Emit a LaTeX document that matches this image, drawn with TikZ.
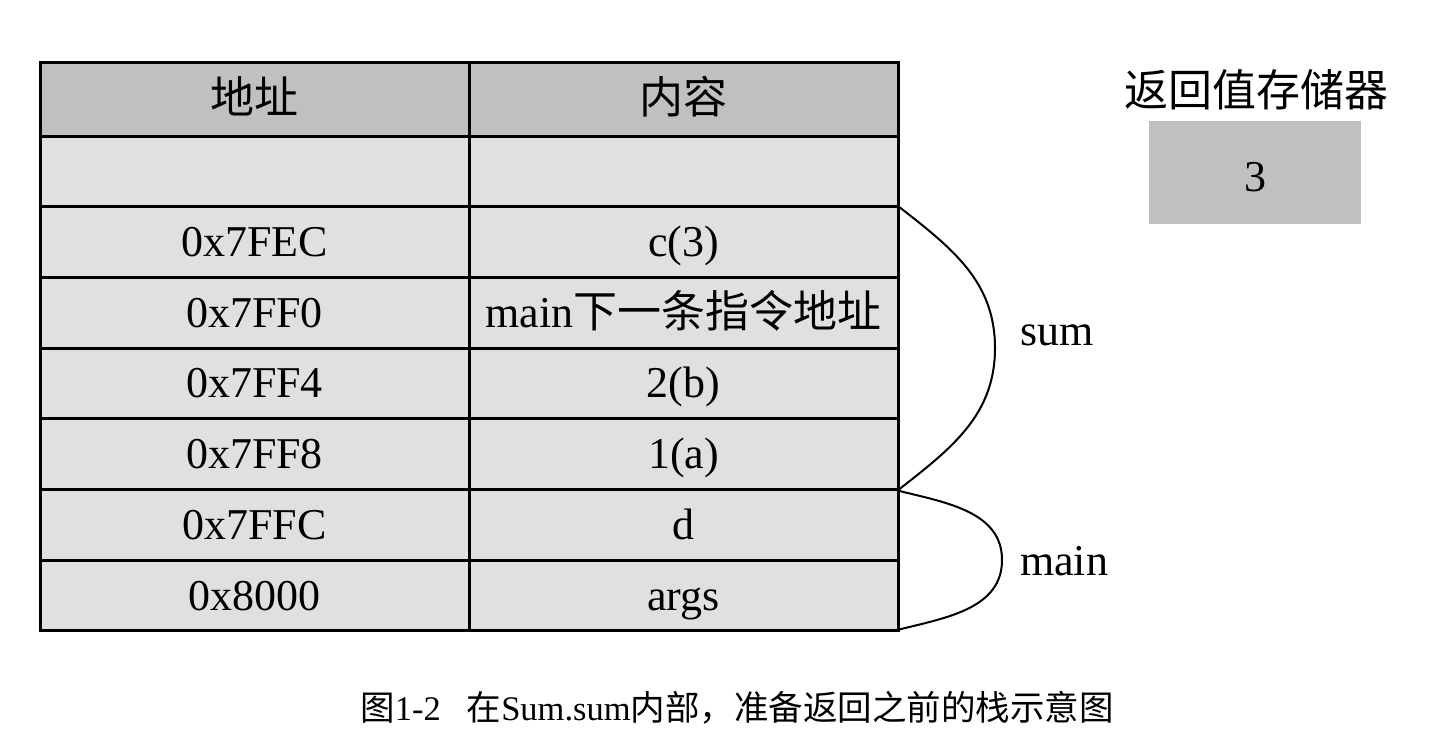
\documentclass[tikz,border=0pt]{standalone}
\usepackage{fontspec}
\setmainfont{Liberation Serif}
\newfontfamily\cjk{Noto Sans CJK SC}
\definecolor{headgray}{HTML}{C0C0C0}
\definecolor{rowgray}{HTML}{E0E0E0}
\begin{document}
\begin{tikzpicture}[x=1pt,y=-1pt,
  cell/.style={draw=black, line width=3pt, fill=rowgray, minimum width=429pt,
    minimum height=70.7pt, inner sep=0pt, text height=29pt, text depth=0pt,
    font=\fontsize{44}{50}\selectfont},
  headcell/.style={cell, fill=headgray, minimum height=74pt},
  bracecurve/.style={line width=2pt},
  lbl/.style={font=\fontsize{44}{50}\selectfont, inner sep=0pt}]
\useasboundingbox[fill=white] (0,0) rectangle (1443,745);

% header
\node[headcell] (h1) at (254.5,99) {\cjk 地址};
\node[headcell] (h2) at (683.5,99) {\cjk 内容};

% rows
\node[cell] (a0) at (254.5,171.35) {};
\node[cell] (b0) at (683.5,171.35) {};
\node[cell] (a1) at (254.5,242.05) {0x7FEC};
\node[cell] (b1) at (683.5,242.05) {c(3)};
\node[cell] (a2) at (254.5,312.75) {0x7FF0};
\node[cell] (b2) at (683.5,312.75) {main{\cjk 下一条指令地址}};
\node[cell] (a3) at (254.5,383.45) {0x7FF4};
\node[cell] (b3) at (683.5,383.45) {2(b)};
\node[cell] (a4) at (254.5,454.15) {0x7FF8};
\node[cell] (b4) at (683.5,454.15) {1(a)};
\node[cell] (a5) at (254.5,524.85) {0x7FFC};
\node[cell] (b5) at (683.5,524.85) {d};
\node[cell] (a6) at (254.5,595.55) {0x8000};
\node[cell] (b6) at (683.5,595.55) {args};

% braces
\coordinate (s1) at ([yshift=-2pt]b1.north east);
\coordinate (s2) at ([yshift=2pt]b4.south east);
\coordinate (sapex) at (995,348);
\draw[bracecurve] (s1) to[out=-38,in=90] (sapex) to[out=-90,in=38] (s2);
\coordinate (m1) at ([yshift=-3pt]b5.north east);
\coordinate (m2) at ([yshift=3pt]b6.south east);
\coordinate (mapex) at (1002,560);
\draw[bracecurve] (m1) to[out=-14,in=90] (mapex) to[out=-90,in=14] (m2);

\node[lbl, anchor=base] (sum) at (1057,345) {sum};
\node[lbl, anchor=base] (mainl) at (1064,575) {main};

% return register
\node[lbl, anchor=center] (regl) at (1256,90) {\cjk 返回值存储器};
\node[fill=headgray, minimum width=212pt, minimum height=103pt, inner sep=0pt,
  text height=37pt, text depth=0pt, font=\fontsize{44}{50}\selectfont] (reg) at (1255,172.5) {3};

% caption
\node[font=\fontsize{34.5}{40}\selectfont, inner sep=0pt, anchor=base] (cap) at (737,720)
  {{\cjk 图}1-2\hspace{26pt}{\cjk 在}Sum.sum{\cjk 内部，准备返回之前的栈示意图}};
\end{tikzpicture}
\end{document}
